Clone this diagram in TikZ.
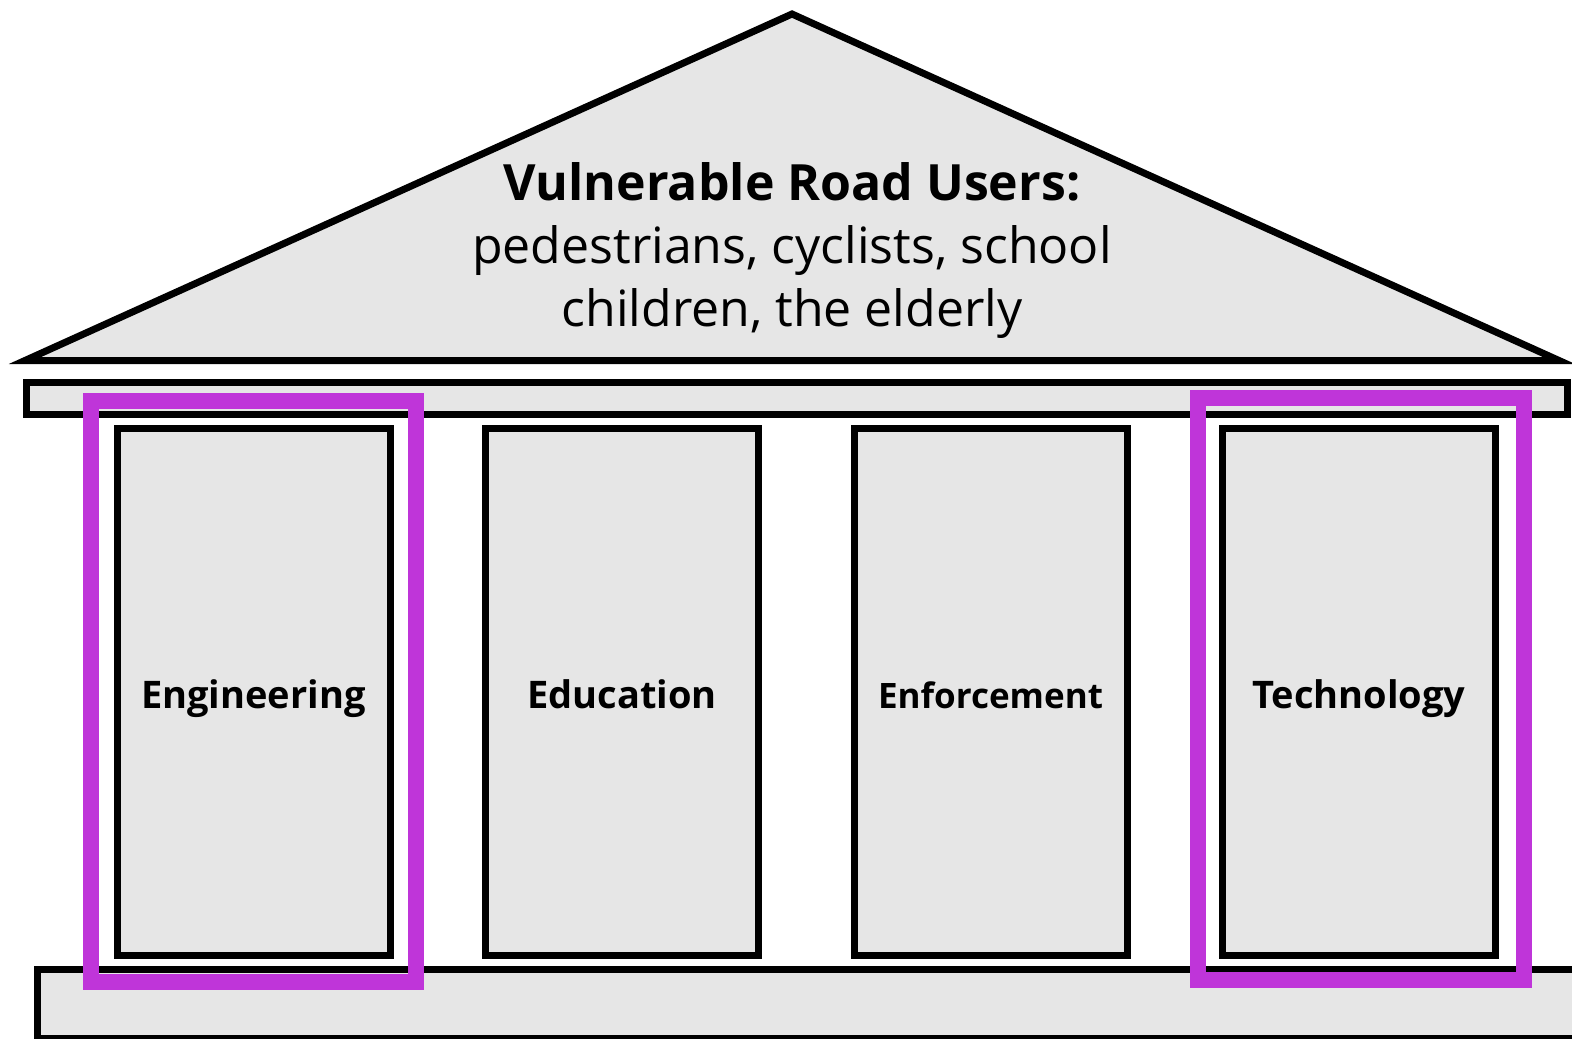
\documentclass[tikz,border=0pt]{standalone}
\usepackage{fontspec}
\setmainfont{Open Sans}
\definecolor{partgray}{HTML}{E6E6E6}
\definecolor{markpurple}{HTML}{BF35D9}
\tikzset{
    part/.style={draw=black, line width=3.5pt, fill=partgray},
    pillar/.style={part, minimum width=136.5pt, minimum height=263.5pt,
        inner sep=0pt, text height=16.5pt, text depth=0pt,
        font=\fontsize{19}{22}\selectfont\bfseries},
    highlight/.style={draw=markpurple, line width=8pt},
}

\begin{document}
\begin{tikzpicture}[x=0.5pt, y=-0.5pt]
    \useasboundingbox (0,0) rectangle (1572,1038);

    \draw[part] (37,969) rectangle (1600,1038);
    \draw[part] (26,382) rectangle (1567,414);
    \draw[part] (25,360.5) -- (792,14) -- (1559,360.5) -- cycle;

    \node[align=center, font=\fontsize{25}{31.5}\selectfont] (roof) at (792,250.5)
        {\textbf{Vulnerable Road Users:}\\pedestrians, cyclists, school\\children, the elderly};

    \foreach \name/\label [count=\i from 0] in
        {eng/Engineering, edu/Education, enf/{\fontsize{17.5}{21}\selectfont Enforcement}, tech/Technology}
        \node[pillar] (\name) at ({253.5+368.5*\i},691.5) {\label};

    \draw[highlight] (91,401) rectangle (416,982);
    \draw[highlight] (1198,398) rectangle (1524,980);
\end{tikzpicture}
\end{document}
